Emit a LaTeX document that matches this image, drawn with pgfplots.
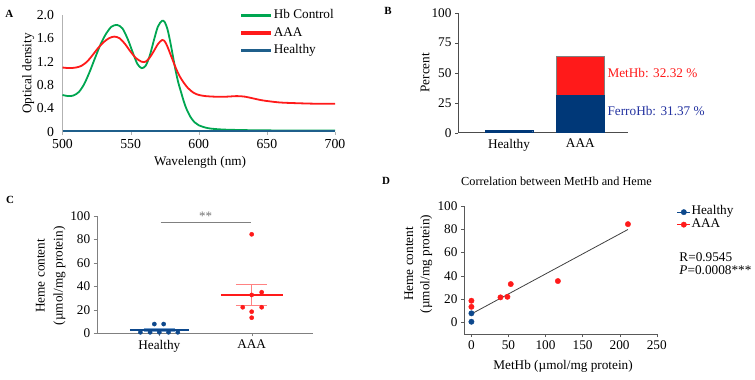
\documentclass[border=0pt]{standalone}
\usepackage{pgfplots}
\pgfplotsset{compat=1.18}
\usepackage{fontspec}
\setmainfont{Liberation Serif}
\definecolor{hbgreen}{RGB}{0,166,81}
\definecolor{aaared}{RGB}{255,26,26}
\definecolor{hlblue}{RGB}{31,95,139}
\definecolor{navybar}{RGB}{0,56,120}
\definecolor{ptblue}{RGB}{13,72,140}
\definecolor{ferroblue}{RGB}{35,50,160}
\definecolor{lightblue}{RGB}{120,160,205}
\definecolor{pinkred}{RGB}{255,130,130}
\begin{document}
\begin{tikzpicture}
\useasboundingbox (0,0) rectangle (755bp,380bp);
\pgfplotsset{
  every axis/.append style={
    scale only axis, anchor=south west,
    /pgf/number format/assume math mode=true,
    tick label style={font=\fontsize{13.3}{15}\selectfont},
    label style={font=\fontsize{13.3}{18}\selectfont},
    axis lines=left, axis line style={-},
    tick align=outside, major tick length=3bp,
    clip=false,
  },
}
% ---------------- Panel A ----------------
\begin{axis}[at={(62.5bp,248.3bp)}, width=272.5bp, height=116.7bp,
  xmin=500, xmax=700, ymin=0, ymax=2,
  xtick={500,550,600,650,700}, ytick={0,0.4,0.8,1.2,1.6,2},
  yticklabels={0,0.4,0.8,1.2,1.6,2.0},
  tick label style={font=\fontsize{13.8}{15}\selectfont},
  yticklabel style={xshift=-2bp},
  xticklabel style={yshift=-1bp},
  axis line style={draw=gray!60}, ytick style={draw=none}, xtick style={draw=gray!60},
  xlabel={Wavelength (nm)}, ylabel={Optical density},
  xlabel style={at={(axis description cs:0.505,-0.266)}, anchor=center},
  ylabel style={at={(axis description cs:-0.1255,0.5)}, anchor=center},
  legend style={at={(1,1.06)}, anchor=north east, draw=none, fill=none, inner sep=0pt,
    font=\fontsize{13.3}{15}\selectfont, row sep=3bp,
    nodes={inner sep=1bp, text height=9.5bp, text depth=3bp}},
  legend cell align=left,
  legend image code/.code={\draw[#1, line width=3.5bp] (0bp,0bp) -- (30bp,0bp);},
]
\addplot[hbgreen, line width=1.8bp, smooth] coordinates {
(500,0.63) (504,0.61) (508,0.62) (512,0.68) (516,0.82) (520,1.03) (524,1.27) (528,1.50)
(532,1.68) (536,1.80) (540,1.83) (544,1.77) (548,1.58) (552,1.33) (555,1.16) (558,1.09)
(561,1.13) (564,1.30) (567,1.56) (570,1.80) (573,1.90) (575,1.88) (577,1.76) (579,1.55)
(581,1.30) (583,1.05) (585,0.84) (587,0.68) (589,0.52) (591,0.39) (594,0.25) (597,0.16)
(600,0.11) (605,0.07) (610,0.05) (620,0.035) (640,0.025) (670,0.02) (700,0.02)};
\addlegendentry{Hb Control}
\addplot[aaared, line width=1.8bp, smooth] coordinates {
(500,1.10) (505,1.09) (510,1.10) (514,1.13) (518,1.20) (522,1.31) (526,1.43) (530,1.53)
(534,1.60) (538,1.63) (542,1.60) (546,1.50) (550,1.37) (554,1.26) (558,1.20) (561,1.20)
(564,1.27) (567,1.38) (570,1.50) (573,1.57) (575,1.55) (577,1.46) (579,1.34) (581,1.22)
(583,1.10) (586,0.95) (589,0.84) (592,0.75) (596,0.67) (600,0.63) (605,0.61) (612,0.60)
(620,0.60) (628,0.61) (634,0.60) (640,0.57) (646,0.54) (652,0.52) (660,0.50) (670,0.49)
(685,0.48) (700,0.48)};
\addlegendentry{AAA}
\addplot[hlblue, line width=1.8bp] coordinates {(500,0.008) (600,0.008) (700,0.008)};
\addlegendentry{Healthy}
\end{axis}
% ---------------- Panel B ----------------
\begin{axis}[at={(458bp,247.3bp)}, width=170bp, height=120bp,
  ybar, bar shift=0pt, bar width=47.5bp,
  xmin=-0.715, xmax=1.669, ymin=0, ymax=100,
  xtick={0,1}, xticklabels={Healthy,AAA}, xtick style={draw=none},
  ytick={0,25,50,75,100},
  axis line style={draw=black!70}, ytick style={draw=black!70},
  ylabel={Percent},
  ylabel style={at={(axis description cs:-0.194,0.5)}, anchor=center},
]
% MetHb on top of FerroHb: total 31.37 + 32.32 = 63.69
\addplot[fill=aaared, draw=gray] coordinates {(1,63.69)};
\addplot[fill=navybar, draw=navybar] coordinates {(0,2.0) (1,31.37)};
\node[anchor=west, text=aaared, font=\fontsize{13.3}{15}\selectfont] at (axis cs:1.333,50) {MetHb: 32.32 \%};
\node[anchor=west, text=ferroblue, font=\fontsize{13.3}{15}\selectfont] at (axis cs:1.333,18) {FerroHb: 31.37 \%};
\end{axis}
% ---------------- Panel C ----------------
\begin{axis}[at={(96.7bp,46.7bp)}, width=216.6bp, height=117.3bp,
  xmin=0.322, xmax=2.667, ymin=0, ymax=100,
  xtick={1,2}, xticklabels={Healthy,AAA},
  ytick={0,20,40,60,80,100},
  axis line style={draw=gray}, tick style={draw=gray},
  ylabel={Heme content\\(µmol/mg protein)},
  ylabel style={at={(axis description cs:-0.212,0.49)}, anchor=center, align=center},
]
\addplot[only marks, mark=*, mark size=2.1bp, color=ptblue] coordinates {
(0.795,0.85) (0.9,0.85) (1,0.85) (1.1,0.85) (1.2,0.85) (0.946,7.9) (1.047,7.9)};
\addplot[lightblue, line width=1bp] coordinates {(1,1.56) (1,4.16)};
\addplot[lightblue, line width=1bp] coordinates {(0.83,4.16) (1.17,4.16)};
\addplot[lightblue, line width=1bp] coordinates {(0.83,1.56) (1.17,1.56)};
\addplot[ptblue, line width=1.2bp] coordinates {(0.68,2.86) (1.32,2.86)};
\addplot[pinkred, line width=1bp] coordinates {(2,23.5) (2,41.7)};
\addplot[pinkred, line width=1bp] coordinates {(1.83,41.7) (2.17,41.7)};
\addplot[pinkred, line width=1bp] coordinates {(1.83,23.5) (2.17,23.5)};
\addplot[aaared, line width=1.2bp] coordinates {(1.665,32.6) (2.335,32.6)};
\addplot[only marks, mark=*, mark size=2.1bp, color=aaared] coordinates {
(2,84.4) (2,32.7) (2.108,35) (1.903,22.2) (2.108,22.2) (2,18.4) (2,13.3)};
\addplot[gray, line width=1bp] coordinates {(1.015,94.3) (1.99,94.3)};
\node[text=gray!90!black, font=\fontsize{13}{14}\selectfont] at (axis cs:1.5,99.8) {**};
\end{axis}
% ---------------- Panel D ----------------
\begin{axis}[at={(464bp,46bp)}, width=192.7bp, height=128.3bp,
  xmin=-10, xmax=250, ymin=-10, ymax=100,
  xtick={0,50,100,150,200,250}, ytick={0,20,40,60,80,100},
  axis line style={draw=black!65}, tick style={draw=black!65},
  xlabel={MetHb (µmol/mg protein)},
  xlabel style={at={(axis description cs:0.514,-0.255)}, anchor=center},
  ylabel={Heme content\\(µmol/mg protein)},
  ylabel style={at={(axis description cs:-0.237,0.546)}, anchor=center, align=center, font=\fontsize{13.3}{16.5}\selectfont},
  title={Correlation between MetHb and Heme},
  title style={at={(axis description cs:0.48,1.143)}, anchor=center, font=\fontsize{12.3}{14}\selectfont},
  legend style={at={(axis description cs:1.105,1.0)}, anchor=north west, draw=none, fill=none, inner sep=0pt,
    font=\fontsize{13.3}{15}\selectfont, row sep=0bp,
    nodes={inner sep=1bp, text height=8bp, text depth=2.5bp}},
  legend cell align=left,
  legend image code/.code={\draw[mark repeat=2, mark phase=2, #1, sharp plot] plot coordinates {(0bp,0bp) (6.5bp,0bp) (13bp,0bp)};},
]
\addplot[only marks, mark=*, mark size=2.7bp, color=ptblue] coordinates {(0,0.5) (0,7.7)};
\addlegendentry{Healthy}
\addplot[only marks, mark=*, mark size=2.7bp, color=aaared] coordinates {
(0,18.5) (0,13.3) (39.2,21.4) (48.6,21.9) (53.1,32.8) (116.7,35.4) (211.2,84.2)};
\addlegendentry{AAA}
\addplot[black!75, line width=0.8bp, forget plot] coordinates {(0,7.2) (211.2,79.6)};
\node[anchor=west, font=\fontsize{13.3}{15}\selectfont] at (axis description cs:1.1,0.598) {R=0.9545};
\node[anchor=west, font=\fontsize{13.3}{15}\selectfont] at (axis description cs:1.1,0.499) {\textit{P}=0.0008***};
\end{axis}
% panel letters
\node[font=\bfseries\fontsize{11}{12}\selectfont] at (9.3bp,366.3bp) {A};
\node[font=\bfseries\fontsize{11}{12}\selectfont] at (388bp,369bp) {B};
\node[font=\bfseries\fontsize{11}{12}\selectfont] at (10bp,180bp) {C};
\node[font=\bfseries\fontsize{11}{12}\selectfont] at (386bp,199bp) {D};
\end{tikzpicture}
\end{document}
